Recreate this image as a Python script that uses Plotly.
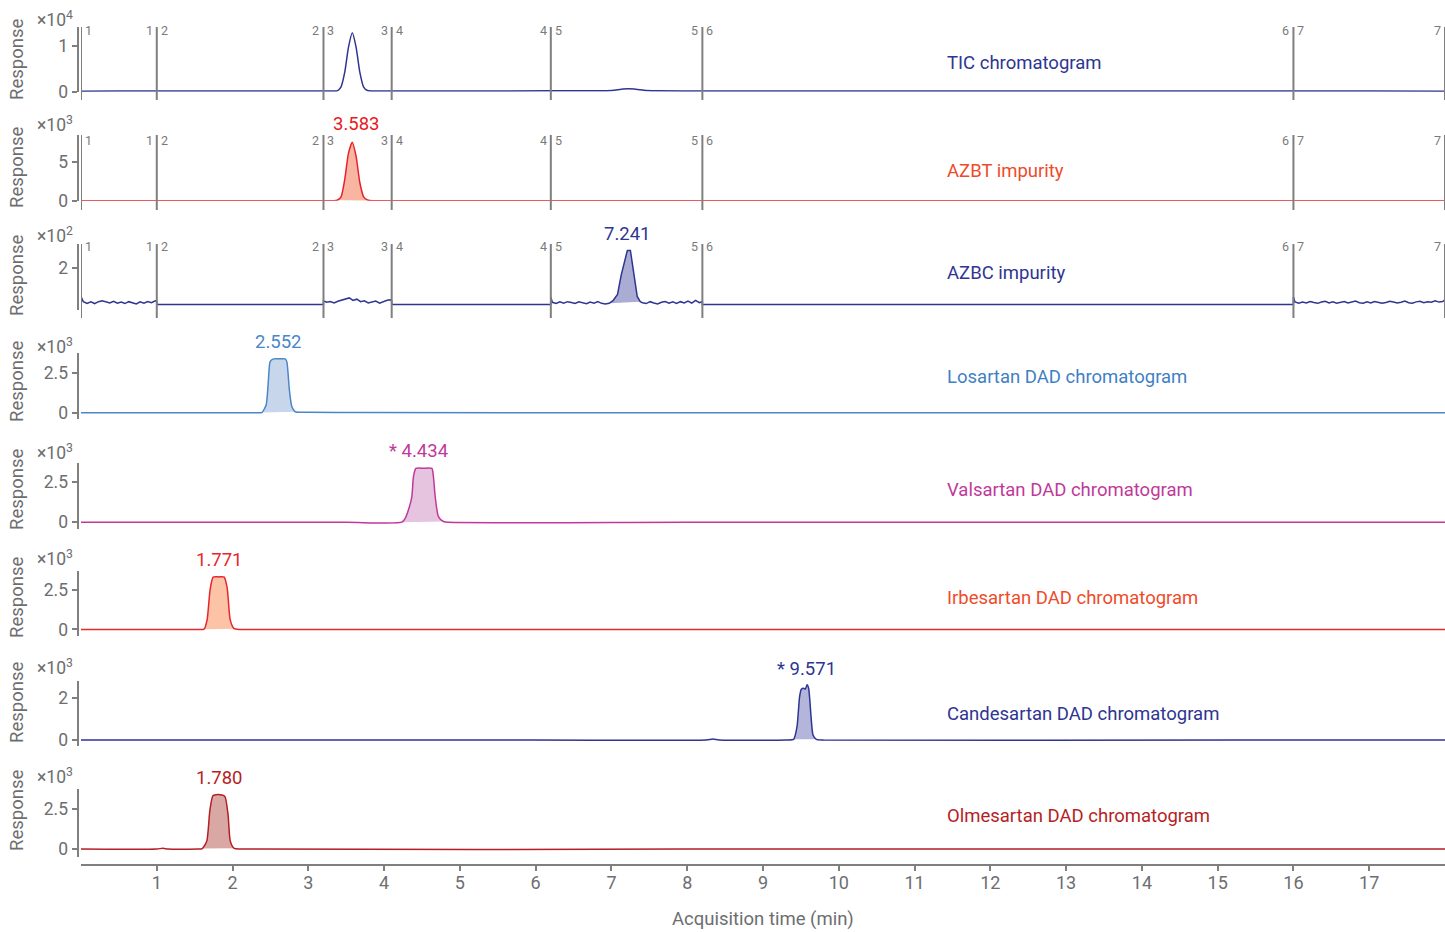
import plotly.graph_objects as go

W, H = 1445, 932


def py(p):
    return 1 - p / H


def px(p):
    return p / W


# ---------------- data ----------------
seg_bounds = [0.0, 1.0, 3.2, 4.1, 6.2, 8.2, 16.0, 18.0]
x_ticks = list(range(1, 18))

tic_t = [0.0, 0.5, 1.0, 2.0, 3.2, 3.33, 3.38, 3.43, 3.48, 3.53, 3.58, 3.63, 3.68, 3.73, 3.78, 3.85, 4.1, 5.0,
         6.2, 6.9, 7.0, 7.08, 7.15, 7.23, 7.3, 7.38, 7.46, 7.6, 8.2, 12.0, 16.0, 17.0, 18.0]
tic_v = [0.012, 0.013, 0.015, 0.015, 0.015, 0.016, 0.018, 0.1, 0.42, 0.97, 1.28, 0.97, 0.42, 0.1, 0.025, 0.017,
         0.015, 0.015, 0.018, 0.02, 0.025, 0.04, 0.058, 0.066, 0.06, 0.04, 0.025, 0.02, 0.015, 0.015, 0.015,
         0.013, 0.012]

azbt_t = [0.0, 1.0, 3.2, 3.33, 3.38, 3.43, 3.48, 3.53, 3.58, 3.63, 3.68, 3.73, 3.78, 3.85, 4.1, 8.2, 18.0]
azbt_v = [0, 0, 0, 0, 0.05, 0.45, 2.7, 6.1, 7.5, 5.7, 2.3, 0.5, 0.1, 0.0, 0, 0, 0]

azbc_t = [0.0, 0.03, 0.08, 0.13, 0.18, 0.23, 0.28, 0.33, 0.38, 0.43, 0.48, 0.53, 0.58, 0.63, 0.68, 0.73, 0.78,
          0.83, 0.88, 0.93, 0.98, 1.0,
          1.0, 3.2,
          3.2, 3.24, 3.29, 3.34, 3.39, 3.44, 3.49, 3.54, 3.59, 3.64, 3.69, 3.74, 3.79, 3.84, 3.89, 3.94, 3.99, 4.04,
          4.08, 4.1,
          4.1, 6.2,
          6.2, 6.22, 6.27, 6.32, 6.37, 6.42, 6.47, 6.52, 6.57, 6.62, 6.67, 6.72, 6.77, 6.82, 6.87, 6.92, 6.97,
          7.02, 7.08, 7.13, 7.18, 7.21, 7.25, 7.29, 7.34, 7.38, 7.41, 7.46, 7.51, 7.56, 7.61, 7.66, 7.71, 7.76,
          7.81, 7.86, 7.91, 7.96, 8.01, 8.06, 8.11, 8.16, 8.2,
          8.2, 16.0,
          16.0, 16.02, 16.07, 16.12, 16.17, 16.22, 16.27, 16.32, 16.37, 16.42, 16.47, 16.52, 16.57, 16.62, 16.67,
          16.72, 16.77, 16.82, 16.87, 16.92, 16.97, 17.02, 17.07, 17.12, 17.17, 17.22, 17.27, 17.32, 17.37, 17.42,
          17.47, 17.52, 17.57, 17.62, 17.67, 17.72, 17.77, 17.82, 17.87, 17.92, 17.97, 18.0]
azbc_v = [0.64, 0.40, 0.32, 0.39, 0.31, 0.40, 0.44, 0.40, 0.34, 0.42, 0.33, 0.38, 0.31, 0.40, 0.34, 0.29, 0.39,
          0.33, 0.41, 0.35, 0.44, 0.42,
          0.27, 0.27,
          0.44, 0.37, 0.41, 0.34, 0.42, 0.47, 0.55, 0.58, 0.46, 0.52, 0.40, 0.44, 0.34, 0.39, 0.43, 0.33, 0.41,
          0.47, 0.49, 0.45,
          0.27, 0.27,
          0.61, 0.37, 0.31, 0.39, 0.33, 0.40, 0.36, 0.31, 0.39, 0.34, 0.30, 0.38, 0.33, 0.40, 0.32, 0.29, 0.32,
          0.45, 0.75, 1.7, 2.45, 2.86, 2.86, 1.8, 0.65, 0.40, 0.35, 0.31, 0.40, 0.34, 0.29, 0.37, 0.41, 0.33,
          0.39, 0.32, 0.40, 0.34, 0.43, 0.33, 0.46, 0.35, 0.40,
          0.27, 0.27,
          0.62, 0.39, 0.33, 0.38, 0.34, 0.41, 0.36, 0.32, 0.38, 0.42, 0.34, 0.39, 0.33, 0.36, 0.41, 0.34,
          0.38, 0.43, 0.35, 0.33, 0.39, 0.34, 0.41, 0.37, 0.32, 0.36, 0.42, 0.38, 0.34, 0.37, 0.43, 0.35,
          0.33, 0.39, 0.42, 0.35, 0.40, 0.37, 0.44, 0.38, 0.41, 0.50]

los_t = [0.0, 1.3, 2.0, 2.3, 2.386, 2.443, 2.473, 2.496, 2.539, 2.62, 2.694, 2.716, 2.750, 2.782, 2.826, 3.0,
         3.7, 8.0, 15.3, 18.0]
los_v = [0, 0, 0, 0, 0.01, 0.48, 2.04, 3.19, 3.36, 3.37, 3.36, 3.19, 1.42, 0.38, 0.06, 0.03, 0.01, 0, 0, 0]

val_t = [0.0, 1.3, 3.5, 4.234, 4.278, 4.33, 4.366, 4.387, 4.419, 4.52, 4.63, 4.651, 4.674, 4.717, 4.783, 4.85,
         8.0, 15.3, 18.0]
val_v = [0, 0, 0, 0.01, 0.25, 0.9, 1.58, 2.8, 3.32, 3.33, 3.32, 2.8, 1.58, 0.35, 0.05, 0.0, 0, 0, 0]

irb_t = [0.0, 1.0, 1.55, 1.624, 1.664, 1.704, 1.744, 1.82, 1.889, 1.929, 1.969, 2.02, 2.1, 2.7, 8.0, 15.3, 18.0]
irb_v = [0, 0, 0, 0.02, 0.6, 2.5, 3.28, 3.29, 3.28, 2.6, 0.6, 0.05, 0, 0, 0, 0, 0]

can_t = [0.0, 5.0, 8.25, 8.34, 8.42, 9.3, 9.404, 9.449, 9.483, 9.506, 9.536, 9.558, 9.581, 9.602, 9.634, 9.660,
         9.704, 9.8, 15.3, 18.0]
can_v = [0, 0, 0, 0.04, 0, 0, 0.03, 0.64, 2.08, 2.43, 2.48, 2.43, 2.64, 2.48, 1.12, 0.24, 0.03, 0, 0, 0]

olm_t = [0.0, 1.0, 1.08, 1.15, 1.55, 1.60, 1.66, 1.70, 1.74, 1.78, 1.86, 1.90, 1.94, 1.97, 2.02, 2.1, 8.0, 15.3,
         18.0]
olm_v = [0, 0, 0.05, 0, 0, 0.03, 0.5, 2.4, 3.35, 3.42, 3.40, 3.3, 2.2, 0.5, 0.05, 0, 0, 0, 0]

trace_names = ["TIC chromatogram", "AZBT impurity", "AZBC impurity", "Losartan DAD chromatogram",
               "Valsartan DAD chromatogram", "Irbesartan DAD chromatogram", "Candesartan DAD chromatogram",
               "Olmesartan DAD chromatogram"]
peak_labels = [None, "3.583", "7.241", "2.552", "* 4.434", "1.771", "* 9.571", "1.780"]
peak_label_x = [None, 3.63, 7.2, 2.6, 4.45, 1.815, 9.57, 1.82]
fill_ranges = [None, (3.38, 3.85), (6.97, 7.38), (2.386, 2.826), (4.234, 4.783), (1.624, 2.02),
               (9.404, 9.704), (1.60, 2.02)]
exponents = [4, 3, 2, 3, 3, 3, 3, 3]
tick_vals = [[0, 1], [0, 5], [2], [0, 2.5], [0, 2.5], [0, 2.5], [0, 2], [0, 2.5]]
tick_text = [["0", "1"], ["0", "5"], ["2"], ["0", "2.5"], ["0", "2.5"], ["0", "2.5"], ["0", "2"], ["0", "2.5"]]

series_t = [tic_t, azbt_t, azbc_t, los_t, val_t, irb_t, can_t, olm_t]
series_v = [tic_v, azbt_v, azbc_v, los_v, val_v, irb_v, can_v, olm_v]

# ---------------- style ----------------
NAVY = "#2e3592"
line_colors = [NAVY, "#e8202a", NAVY, "#4a86c8", "#c0399a", "#e8262b", NAVY, "#b41e24"]
title_colors = [NAVY, "#ee4b2b", NAVY, "#3f7fc4", "#c0399a", "#ee4b2b", NAVY, "#b41e24"]
label_colors = [NAVY, "#e8191b", NAVY, "#4a86c8", "#c0399a", "#e5272b", NAVY, "#b41e24"]
fill_colors = [None, "#f8b6a2", "#aaacd4", "#c8d6ec", "#e6c3df", "#fcc3a7", "#b3b5da", "#d9a8a4"]
line_shapes = ["spline", "spline", "linear", "spline", "spline", "spline", "spline", "spline"]

# panel geometry in pixels: (top, bottom, ymin, ymax)
panels = [
    (27, 91.7, 0.0, 1.407),
    (135, 200.7, 0.0, 8.42),
    (244, 310, 0.0, 3.17),
    (353, 419, -0.394, 3.73),
    (462.7, 529, -0.41, 3.67),
    (571, 636, -0.41, 3.66),
    (680.7, 746, -0.29, 2.84),
    (789.3, 856.7, -0.48, 3.76),
]
seg_line_px = [(27, 100), (135, 210), (244, 318)]
seg_label_px = [31, 140, 247]
title_px = [63, 171, 273, 377, 490, 598, 714, 816]
peak_label_px = [None, 124, 234, 342, 451, 560, 669, 778]
exp_label_px = [19, 124, 235, 346, 452, 558, 667, 776]
resp_label_px = [60, 168, 276, 382, 490, 598, 703, 811]

GRAY_LINE = "#7f7f7f"
GRAY_TEXT = "#6d6e71"
FONT = "Roboto"

fig = go.Figure()
layout = {}
annotations = []
shapes = []

for i in range(8):
    yname = "y" if i == 0 else f"y{i + 1}"
    ykey = "yaxis" if i == 0 else f"yaxis{i + 1}"
    top, bot, ymin, ymax = panels[i]
    t, v = series_t[i], series_v[i]
    fr = fill_ranges[i]
    shp = line_shapes[i]
    if fr is not None:
        pts = [(a, b) for a, b in zip(t, v) if fr[0] <= a <= fr[1]]
        bt = [pts[0][0], pts[-1][0]]
        bv = [pts[0][1], pts[-1][1]]
        fig.add_trace(go.Scatter(x=bt, y=bv, mode="lines", line=dict(width=0, color="rgba(0,0,0,0)"),
                                 xaxis="x", yaxis=yname, showlegend=False, hoverinfo="skip"))
        fig.add_trace(go.Scatter(x=[p[0] for p in pts], y=[p[1] for p in pts], mode="lines",
                                 line=dict(width=0, color="rgba(0,0,0,0)", shape=shp, smoothing=0.6),
                                 fill="tonexty", fillcolor=fill_colors[i],
                                 xaxis="x", yaxis=yname, showlegend=False, hoverinfo="skip"))
    fig.add_trace(go.Scatter(x=t, y=v, mode="lines",
                             line=dict(width=1.5, color=line_colors[i], shape=shp, smoothing=0.6),
                             xaxis="x", yaxis=yname, showlegend=False, name=trace_names[i]))

    layout[ykey] = dict(
        domain=[py(bot), py(top)], range=[ymin, ymax], anchor="free", position=px(77.5),
        showline=True, linecolor=GRAY_LINE, linewidth=2, ticks="outside", ticklen=5, tickwidth=1.5,
        tickcolor=GRAY_LINE, tickvals=tick_vals[i], ticktext=tick_text[i],
        tickfont=dict(family=FONT, size=17.5, color=GRAY_TEXT), showgrid=False, zeroline=False,
        automargin=False, fixedrange=True,
    )

    annotations.append(dict(text="Response", x=px(17), y=py(resp_label_px[i]), xref="paper", yref="paper",
                            textangle=-90, showarrow=False, xanchor="center", yanchor="middle",
                            font=dict(family=FONT, size=18.5, color=GRAY_TEXT)))
    annotations.append(dict(text=f"×10<sup>{exponents[i]}</sup>", x=px(35), y=py(exp_label_px[i]), xref="paper",
                            yref="paper", showarrow=False, xanchor="left", yanchor="middle",
                            font=dict(family=FONT, size=17.5, color=GRAY_TEXT)))
    annotations.append(dict(text=trace_names[i], x=px(945), y=py(title_px[i]), xref="paper", yref="paper",
                            showarrow=False, xanchor="left", yanchor="middle",
                            font=dict(family=FONT, size=18.5, color=title_colors[i])))
    if peak_labels[i]:
        annotations.append(dict(text=peak_labels[i], x=peak_label_x[i], y=py(peak_label_px[i]), xref="x",
                                yref="paper", showarrow=False, xanchor="center", yanchor="middle",
                                font=dict(family=FONT, size=18.5, color=label_colors[i])))

# segment markers on the first three panels
for k in range(3):
    y0, y1 = seg_line_px[k]
    for j, b in enumerate(seg_bounds):
        shapes.append(dict(type="line", xref="x", yref="paper", x0=b, x1=b, y0=py(y1), y1=py(y0),
                           line=dict(color=GRAY_LINE, width=2)))
        if j >= 1:
            annotations.append(dict(text=str(j), x=b, y=py(seg_label_px[k]), xref="x", yref="paper",
                                    showarrow=False, xanchor="right", yanchor="middle", xshift=-2,
                                    font=dict(family=FONT, size=12.5, color="#7a7a7a")))
        if j < len(seg_bounds) - 1:
            annotations.append(dict(text=str(j + 1), x=b, y=py(seg_label_px[k]), xref="x", yref="paper",
                                    showarrow=False, xanchor="left", yanchor="middle", xshift=2,
                                    font=dict(family=FONT, size=12.5, color="#7a7a7a")))

annotations.append(dict(text="Acquisition time (min)", x=px(763), y=py(919), xref="paper", yref="paper",
                        showarrow=False, xanchor="center", yanchor="middle",
                        font=dict(family=FONT, size=18.5, color=GRAY_TEXT)))

layout["xaxis"] = dict(
    domain=[px(81), 1.0], range=[0, 18.0], anchor="free", position=py(865),
    showline=True, linecolor=GRAY_LINE, linewidth=2, ticks="outside", ticklen=5, tickwidth=1.5,
    tickcolor=GRAY_LINE, tickvals=x_ticks, tickfont=dict(family=FONT, size=18, color=GRAY_TEXT),
    ticklabelstandoff=-4,
    showgrid=False, zeroline=False, automargin=False, fixedrange=True,
)

fig.update_layout(
    width=W, height=H, margin=dict(l=0, r=0, t=0, b=0),
    plot_bgcolor="white", paper_bgcolor="white",
    annotations=annotations, shapes=shapes, showlegend=False,
    **layout,
)

fig.write_html("out.html", config={"displayModeBar": False},
               post_script="document.body.style.margin='0px';document.body.style.padding='0px';")
